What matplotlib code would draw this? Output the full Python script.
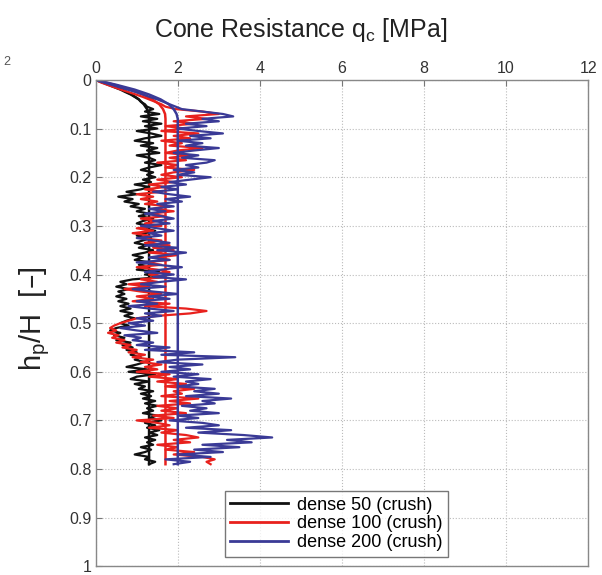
import matplotlib
matplotlib.use('Agg')
import matplotlib.pyplot as plt
from matplotlib.ticker import FormatStrFormatter
import numpy as np

plt.rcParams['font.family'] = ['Liberation Sans', 'DejaVu Sans']

# depth ratio h_p/H, sampled every 0.005 from 0 to 0.79
depth = np.round(np.arange(0, 0.7901, 0.005), 3)

qc_dense50 = [
    0.0, 0.15, 0.3, 0.45, 0.6, 0.72, 0.85, 0.95, 1.05, 1.1,
    1.2, 1.25, 1.4, 1.2, 1.55, 1.1, 1.5, 1.15, 1.6, 1.2,
    1.5, 1.0, 1.35, 1.6, 1.2, 0.95, 1.4, 1.1, 1.5, 1.25,
    1.55, 1.0, 1.3, 1.45, 1.2, 1.6, 1.3, 1.1, 1.4, 1.25,
    1.45, 1.15, 1.35, 0.95, 1.3, 1.1, 0.75, 1.0, 0.55, 0.9,
    0.7, 1.05, 0.85, 1.2, 1.0, 1.3, 1.05, 1.4, 1.15, 1.0,
    1.3, 1.1, 1.45, 1.2, 1.0, 1.35, 1.15, 0.95, 1.25, 1.05,
    1.4, 1.2, 0.9, 1.15, 0.95, 1.3, 1.05, 1.25, 1.0, 1.55,
    1.2, 1.65, 0.9, 0.6, 0.75, 0.5, 0.8, 0.55, 0.7, 0.5,
    0.75, 0.55, 0.8, 0.6, 0.85, 0.6, 0.9, 0.7, 0.95, 0.75,
    0.6, 0.8, 0.5, 0.35, 0.6, 0.45, 0.7, 0.5, 0.85, 0.65,
    0.9, 0.75, 1.0, 0.85, 1.1, 0.95, 1.2, 1.0, 0.75, 1.25,
    0.8, 1.45, 1.0, 0.85, 1.3, 0.95, 1.2, 1.05, 1.4, 1.1,
    1.35, 1.15, 1.45, 1.2, 1.5, 1.25, 1.4, 1.15, 1.5, 1.3,
    1.6, 1.2, 1.45, 1.25, 1.55, 1.3, 1.5, 1.2, 1.45, 1.25,
    1.4, 1.1, 1.35, 1.2, 0.95, 1.3, 1.2, 1.45, 1.3,
]

qc_dense100 = [
    0.0, 0.12, 0.28, 0.45, 0.62, 0.8, 0.98, 1.15, 1.3, 1.45,
    1.6, 1.7, 1.95, 2.6, 3.0, 2.2, 2.7, 1.9, 2.4, 1.7,
    2.2, 1.6, 2.5, 1.9, 2.3, 1.6, 2.1, 1.8, 2.6, 2.0,
    1.7, 2.3, 1.8, 2.2, 1.5, 2.0, 1.7, 2.4, 1.9, 1.6,
    2.1, 1.5, 1.9, 1.3, 1.7, 1.2, 1.6, 1.0, 1.4, 1.1,
    1.5, 1.2, 1.8, 1.4, 1.9, 1.3, 1.7, 1.1, 1.5, 1.2,
    1.6, 1.0, 1.4, 0.9, 1.3, 1.1, 1.6, 1.2, 1.8, 1.4,
    1.9, 1.3, 2.0, 1.5, 1.8, 1.2, 1.6, 1.0, 1.5, 1.8,
    1.3, 1.7, 1.1, 1.5, 0.8, 1.3, 0.7, 1.1, 1.6, 1.0,
    1.4, 0.9, 1.8, 1.2, 2.2, 2.7, 2.3, 1.5, 1.0, 0.8,
    0.6, 0.45, 0.35, 0.5, 0.3, 0.55, 0.4, 0.7, 0.5, 0.85,
    0.65, 1.0, 0.8, 1.2, 0.9, 1.4, 1.1, 1.6, 1.2, 1.5,
    1.0, 1.8, 1.3, 2.0, 1.5, 2.2, 1.7, 2.4, 1.9, 2.1,
    1.6, 2.5, 1.8, 2.3, 1.5, 2.0, 1.6, 2.2, 1.4, 1.9,
    1.0, 1.5, 1.8, 1.3, 2.0, 1.6, 2.2, 2.5, 1.9, 2.3,
    1.5, 2.0, 1.7, 2.4, 1.9, 2.6, 2.9, 2.7, 2.8,
]

qc_dense200 = [
    0.0, 0.18, 0.38, 0.58, 0.78, 0.98, 1.15, 1.32, 1.5, 1.65,
    1.8, 1.95, 2.1, 2.6, 3.1, 3.35, 2.6, 3.0, 2.2, 2.7,
    2.0, 2.5, 3.1, 2.3, 2.8, 2.0, 2.6, 2.2, 3.0, 2.4,
    1.9, 2.5, 2.1, 2.9, 2.7, 2.2, 2.5, 1.9, 2.4, 2.0,
    2.8, 2.3, 1.8, 2.2, 1.6, 2.0, 1.4, 1.8, 2.3, 1.7,
    2.1, 1.5, 1.9, 1.3, 1.7, 1.2, 1.6, 1.9, 1.4, 1.8,
    1.1, 1.5, 1.9, 1.3, 1.6, 1.0, 1.4, 1.8, 1.2, 2.0,
    1.5, 2.2, 1.7, 1.3, 1.8, 1.0, 1.5, 2.1, 1.6, 1.2,
    1.9, 1.4, 2.2, 1.6, 1.1, 1.7, 0.9, 1.4, 2.0, 1.3,
    1.8, 1.0, 1.5, 0.8, 1.3, 1.9, 1.2, 1.6, 1.0, 1.4,
    0.8, 1.2, 0.6, 1.0, 1.5, 0.7, 1.1, 0.9, 1.4, 1.0,
    1.8, 1.2, 2.4, 1.6, 3.4, 2.0, 1.5, 2.6, 1.8, 2.3,
    1.6, 2.5, 1.9, 2.8, 2.2, 2.5, 2.0, 2.9, 2.4, 3.0,
    2.2, 3.3, 2.6, 2.9, 2.1, 2.7, 2.3, 3.0, 2.0, 2.5,
    1.8, 2.6, 3.0, 2.2, 3.3, 2.5, 3.6, 4.3, 3.2, 3.8,
    2.6, 3.5, 2.4, 3.1, 2.0, 2.8, 1.7, 2.3, 1.9,
]

# smooth trend curves
trend_depth = [0, 0.01, 0.02, 0.03, 0.04, 0.05, 0.06, 0.07, 0.08, 0.79]
trend_dense50 = [0, 0.35, 0.65, 0.88, 1.05, 1.17, 1.25, 1.29, 1.3, 1.3]
trend_dense100 = [0, 0.45, 0.85, 1.15, 1.38, 1.55, 1.64, 1.69, 1.7, 1.7]
trend_dense200 = [0, 0.5, 0.95, 1.3, 1.58, 1.78, 1.9, 1.97, 2.0, 2.0]

labels = ['dense 50 (crush)', 'dense 100 (crush)', 'dense 200 (crush)']
colors = ['#111111', '#e8211d', '#3a3a96']

fig = plt.figure(figsize=(6.02, 5.75), dpi=100)
ax = fig.add_axes([0.159, 0.015, 0.818, 0.846])

series = [qc_dense50, qc_dense100, qc_dense200]
trends = [trend_dense50, trend_dense100, trend_dense200]
for qc, tr, c, lab in zip(series, trends, colors, labels):
    ax.plot(qc, depth, color=c, lw=1.6, label=lab)
    ax.plot(tr, trend_depth, color=c, lw=1.8)

ax.set_xlim(0, 12)
ax.set_ylim(1, 0)
ax.set_xticks(np.arange(0, 13, 2))
ax.set_yticks(np.arange(0, 1.01, 0.1))
ax.yaxis.set_major_formatter(FormatStrFormatter('%g'))
ax.xaxis.tick_top()
ax.tick_params(axis='both', direction='in', length=4, labelsize=11.5,
               colors='#777777', labelcolor='#333333', pad=3)
ax.grid(True, linestyle=':', color='#bbbbbb', lw=0.8)
for s in ax.spines.values():
    s.set_color('#888888')
    s.set_linewidth(1.0)

leg = ax.legend(loc='lower left', bbox_to_anchor=(0.262, 0.02), fontsize=13,
                frameon=True, fancybox=False, edgecolor='#555555',
                handlelength=3.2, borderpad=0.3, labelspacing=0.1,
                handletextpad=0.5, borderaxespad=0)
leg.get_frame().set_linewidth(1.0)
for line in leg.get_lines():
    line.set_linewidth(2.0)

fig.text(0.50, 0.947, 'Cone Resistance q$_\\mathregular{c}$ [MPa]', fontsize=18,
         ha='center', va='center', color='#222222')
fig.text(0.058, 0.445, 'h$_\\mathregular{p}$/H  [–]', fontsize=21, rotation=90,
         ha='center', va='center', color='#222222')
fig.text(0.012, 0.893, '2', fontsize=9, color='#555555', ha='center', va='center')

fig.savefig('out.png', dpi=100, facecolor='white')
